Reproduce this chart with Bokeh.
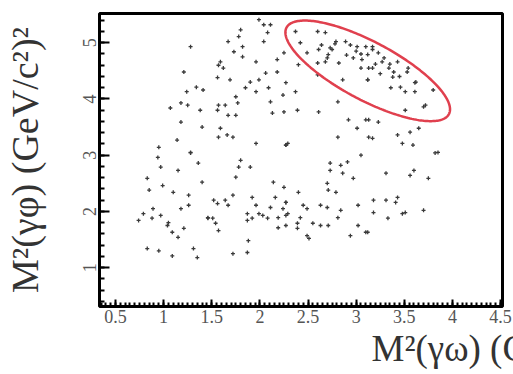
import numpy as np
from bokeh.plotting import figure
from bokeh.models import SingleIntervalTicker
from bokeh.embed import file_html
from bokeh.resources import INLINE

# ---- data ----
m2_gamma_omega = [
    1.28, 1.21, 1.24, 1.34, 1.41, 1.18, 1.25, 1.07, 1.38, 1.18, 1.40, 1.14, 0.95, 1.28, 1.57,
    1.99, 2.04, 2.11, 1.80, 2.08, 1.78, 1.67, 2.04, 1.82, 1.73, 1.82, 2.25, 1.59, 1.96, 2.18,
    1.62, 2.18, 2.06, 1.56, 1.69, 1.90, 1.99, 2.27, 1.85, 2.09, 1.96, 2.24, 1.75, 2.11, 1.57,
    1.64, 1.77, 1.56, 1.67, 1.75, 2.13, 2.25, 1.59, 1.57, 1.66, 1.72, 1.96, 2.27,
    2.37, 2.60, 2.68, 2.42, 2.79, 2.89, 2.64, 2.73, 2.94, 3.01, 3.10, 2.61, 2.49, 2.71, 2.97,
    3.06, 2.82, 2.60, 2.68, 2.40, 3.13, 3.05, 2.86, 3.12, 2.60, 2.37, 2.81, 2.39, 2.61, 2.92,
    3.10, 3.01, 2.81, 2.29, 3.13,
    3.17, 3.23, 3.12, 3.29, 3.27, 3.17, 3.34, 3.39, 3.43, 3.38, 3.54, 3.12, 3.36, 3.46, 3.51,
    3.61, 3.61, 3.80, 3.72, 3.51, 3.23, 3.13, 3.65, 3.56, 3.17, 3.43, 3.48, 3.59, 3.85,
    3.17, 2.75, 2.70, 3.53, 3.62, 3.70, 3.00, 3.20, 2.90, 3.35, 2.78, 3.05, 3.45, 3.25,
    0.94, 1.28, 1.36, 0.97, 1.15, 0.83, 1.40, 0.99, 0.85, 1.10, 1.26, 0.89, 1.18, 1.26, 0.79,
    0.97, 0.88, 0.74, 1.05, 1.04, 1.46, 1.09, 1.21, 1.15, 0.83, 0.95, 1.09, 1.31, 1.35,
    1.80, 1.78, 1.90, 1.75, 2.14, 2.25, 1.72, 1.92, 2.16, 1.52, 1.64, 1.56, 1.67, 1.96, 2.11,
    2.27, 2.24, 1.46, 1.51, 1.87, 1.99, 1.92, 2.08, 2.03, 1.87, 2.27, 2.19, 2.19, 2.27, 1.54,
    1.57, 1.88, 1.72, 1.87, 2.27,
    3.05, 2.73, 2.84, 2.91, 2.73, 2.86, 2.97, 2.70, 2.71, 2.79, 2.40, 2.27, 2.45, 2.49, 2.63,
    2.70, 3.02, 2.84, 2.29, 2.42, 2.81, 2.39, 2.55, 2.63, 2.71, 3.02, 2.39, 3.10, 2.49, 2.94,
    2.51,
    3.82, 3.60, 3.31, 3.56, 3.75, 3.18, 3.31, 3.43, 3.41, 3.18, 3.51, 3.48, 3.70, 3.33, 3.12,
]
m2_gamma_phi = [
    4.93, 4.48, 4.13, 4.21, 4.16, 3.93, 3.89, 3.84, 3.80, 3.59, 3.50, 3.27, 3.14, 3.05, 4.60,
    5.41, 5.32, 5.32, 5.23, 5.18, 5.11, 5.02, 5.02, 4.93, 4.84, 4.75, 4.82, 4.66, 4.66, 4.70,
    4.55, 4.48, 4.46, 4.38, 4.34, 4.30, 4.34, 4.29, 4.20, 4.20, 4.13, 4.07, 4.04, 3.95, 3.89,
    3.89, 3.93, 3.80, 3.71, 3.71, 3.75, 3.77, 3.48, 3.32, 3.36, 3.32, 3.21, 3.18,
    5.20, 5.20, 5.18, 5.00, 5.02, 5.02, 4.96, 4.91, 4.96, 4.93, 4.93, 4.88, 4.82, 4.79, 4.73,
    4.70, 4.64, 4.64, 4.66, 4.61, 4.55, 4.55, 4.34, 4.34, 4.43, 4.13, 3.95, 3.80, 3.77, 3.63,
    3.63, 3.48, 3.32, 3.21, 3.32,
    4.93, 4.82, 4.79, 4.73, 4.66, 4.55, 4.55, 4.48, 4.66, 4.39, 4.55, 4.34, 4.20, 4.21, 4.13,
    4.29, 4.13, 4.16, 3.89, 3.80, 3.59, 3.63, 3.48, 3.41, 3.30, 3.36, 3.21, 3.18, 3.05,
    4.88, 4.88, 4.73, 4.48, 4.30, 3.86, 4.85, 4.62, 4.78, 4.62, 4.98, 4.80, 4.40, 4.45,
    2.96, 3.04, 2.86, 2.79, 2.73, 2.59, 2.52, 2.46, 2.38, 2.34, 2.29, 2.05, 2.05, 2.11, 1.96,
    1.93, 1.88, 1.84, 1.80, 1.75, 1.88, 1.63, 1.70, 1.54, 1.34, 1.30, 1.21, 1.34, 1.18,
    2.91, 2.79, 2.79, 2.61, 2.52, 2.43, 2.29, 2.25, 2.25, 2.20, 2.20, 2.14, 2.11, 2.11, 2.07,
    2.16, 2.05, 1.89, 1.88, 1.96, 1.96, 1.88, 1.88, 1.93, 1.84, 1.93, 1.89, 1.71, 1.75, 1.79,
    1.66, 1.48, 1.25, 1.27, 3.18,
    3.00, 2.86, 2.82, 2.88, 2.73, 2.68, 2.59, 2.50, 2.38, 2.34, 2.34, 2.16, 2.11, 2.05, 2.11,
    2.07, 2.11, 2.02, 1.96, 1.89, 1.89, 1.79, 1.79, 1.75, 1.75, 1.75, 1.70, 1.63, 1.57, 1.57,
    1.52,
    3.04, 2.73, 2.68, 2.64, 2.59, 2.20, 2.20, 2.25, 2.16, 1.98, 1.98, 1.96, 2.02, 1.88, 1.63,
]

# highlighted region: centre (data units), semi-axes (px) and tilt (rad)
ellipse_center = (3.12, 4.50)
ellipse_semi_axes_px = (92, 29)
ellipse_tilt = -0.49

# tick labels (0.5, 1, 1.5, ... 4.5 and 1 ... 5) come from the interval tickers below
x_tick_interval = 0.5
y_tick_interval = 1

x_title = "M\u00b2(\u03b3\u03c9) (GeV/c\u00b2)\u00b2"
y_title = "M\u00b2(\u03b3\u03c6) (GeV/c\u00b2)\u00b2"

X_RANGE = (0.334, 4.52)
Y_RANGE = (0.31, 5.52)
FRAME_W, FRAME_H = 403, 293
SERIF = "Liberation Serif"

p = figure(width=513, height=374, x_range=X_RANGE, y_range=Y_RANGE,
           output_backend="svg", toolbar_location=None,
           min_border_left=99, min_border_right=11, min_border_top=13, min_border_bottom=68)

p.grid.visible = False
p.outline_line_color = "black"
p.outline_line_width = 3

p.scatter(m2_gamma_omega, m2_gamma_phi, marker="cross", size=4,
          line_color="#3a3a3a", line_width=1.3)

# ellipse outline traced as a closed line (pixel-shaped, converted to data units)
sx = FRAME_W / (X_RANGE[1] - X_RANGE[0])
sy = FRAME_H / (Y_RANGE[1] - Y_RANGE[0])
t = np.linspace(0, 2 * np.pi, 241)
a, b = ellipse_semi_axes_px
c, s = np.cos(ellipse_tilt), np.sin(ellipse_tilt)
ex = ellipse_center[0] + (a * np.cos(t) * c - b * np.sin(t) * s) / sx
ey = ellipse_center[1] + (a * np.cos(t) * s + b * np.sin(t) * c) / sy
p.line(ex, ey, line_color="#e0404e", line_width=2.5)

# x axis
xa = p.xaxis[0]
xa.ticker = SingleIntervalTicker(interval=x_tick_interval, num_minor_ticks=10)
xa.major_tick_in = 7
xa.major_tick_out = 0
xa.minor_tick_in = 4
xa.minor_tick_out = 0
xa.major_tick_line_width = 2
xa.minor_tick_line_width = 2
xa.major_label_text_font = SERIF
xa.major_label_text_font_size = "18px"
xa.major_label_text_color = "#555555"
xa.major_label_standoff = 3
xa.axis_label = x_title
xa.axis_label_text_font = SERIF
xa.axis_label_text_font_style = "normal"
xa.axis_label_text_font_size = "37px"
xa.axis_label_text_color = "#333333"
xa.axis_label_standoff = 2
for align in ("end", "right"):
    try:
        xa.axis_label_align = align
        break
    except Exception:
        pass

# y axis
ya = p.yaxis[0]
ya.ticker = SingleIntervalTicker(interval=y_tick_interval, num_minor_ticks=5)
ya.major_tick_in = 10
ya.major_tick_out = 0
ya.minor_tick_in = 5
ya.minor_tick_out = 0
ya.major_tick_line_width = 2
ya.minor_tick_line_width = 2
ya.major_label_orientation = "vertical"
ya.major_label_text_font = SERIF
ya.major_label_text_font_size = "18px"
ya.major_label_text_color = "#555555"
ya.major_label_standoff = 3
ya.axis_label = y_title
ya.axis_label_text_font = SERIF
ya.axis_label_text_font_style = "normal"
ya.axis_label_text_font_size = "38px"
ya.axis_label_text_color = "#333333"
ya.axis_label_standoff = 35

open("out.html", "w").write(file_html(p, INLINE))
